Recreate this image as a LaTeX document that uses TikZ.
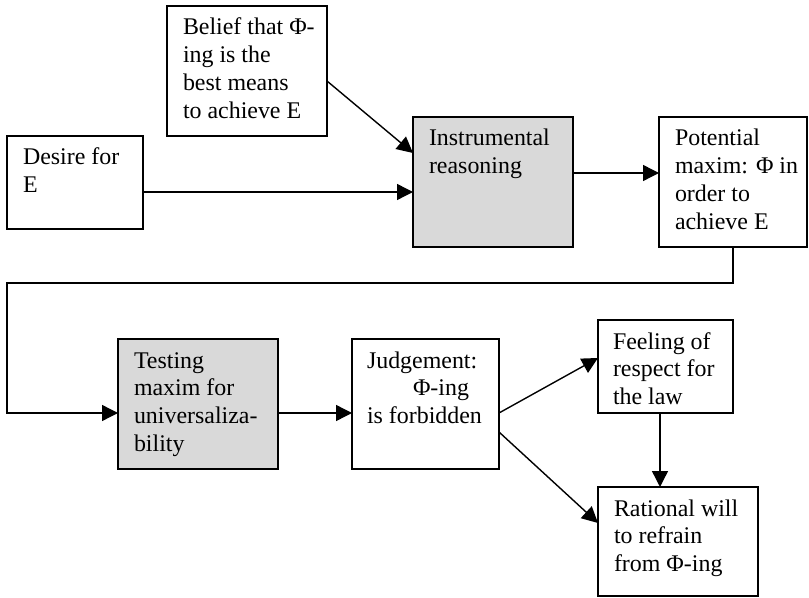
\documentclass[tikz,border=0pt]{standalone}
\usepackage{fontspec}
\setmainfont{Liberation Serif}
\usetikzlibrary{arrows.meta,fit}
\definecolor{boxgray}{HTML}{D9D9D9}
\newcommand\bxt[1]{\parbox[t]{120bp}{\raggedright #1}}
\tikzset{
  box/.style={draw=black, line width=0.9bp, inner sep=0pt, outer sep=0pt},
  graybox/.style={box, fill=boxgray},
  txt/.style={anchor=base west, inner sep=0pt, outer sep=0pt, font=\fontsize{12}{14}\selectfont},
  arr/.style={draw=black, line width=0.7bp, -{Triangle[length=8bp,width=8bp]}},
}
\begin{document}
\begin{tikzpicture}[x=0.5bp,y=-0.5bp]
\useasboundingbox (0,0) rectangle (809,598);
% boxes
\node[box, fit={(167,6) (327,136)}] (bel) {};
\node[box, fit={(7,136) (143,229)}] (des) {};
\node[graybox, fit={(413,117) (573,247)}] (ins) {};
\node[box, fit={(659,117) (807,247)}] (pot) {};
\node[graybox, fit={(118,339) (278,469)}] (tst) {};
\node[box, fit={(352,339) (499,469)}] (jud) {};
\node[box, fit={(598,320) (733,413)}] (fee) {};
\node[box, fit={(598,487) (758,596)}] (rat) {};
% texts
\node[txt] (belT) at ([xshift=8bp,yshift=-14.5bp]bel.north west) {\bxt{Belief that Φ-\\ing is the\\best means\\to achieve E}};
\node[txt] (desT) at ([xshift=8bp,yshift=-14.5bp]des.north west) {\bxt{Desire for\\E}};
\node[txt] (insT) at ([xshift=8bp,yshift=-14.5bp]ins.north west) {\bxt{Instrumental\\reasoning}};
\node[txt] (potT) at ([xshift=8bp,yshift=-14.5bp]pot.north west) {\bxt{Potential\\maxim: Φ in\\order to\\achieve E}};
\node[txt] (tstT) at ([xshift=8bp,yshift=-14.5bp]tst.north west) {\bxt{Testing\\maxim for\\universaliza-\\bility}};
\node[txt] (judT) at ([xshift=7.5bp,yshift=-14.5bp]jud.north west) {\bxt{Judgement:\\\hspace*{23bp}Φ-ing\\is forbidden}};
\node[txt] (feeT) at ([xshift=7.5bp,yshift=-14.5bp]fee.north west) {\bxt{Feeling of\\respect for\\the law}};
\node[txt] (ratT) at ([xshift=8bp,yshift=-14.5bp]rat.north west) {\bxt{Rational will\\to refrain\\from Φ-ing}};
% connectors
\coordinate (c1) at (7,283);
\draw[arr] ([yshift=-5bp]bel.east) -- ([yshift=14.5bp]ins.west);
\draw[arr] ([yshift=-4.75bp]des.east) -- ([yshift=-4.75bp]des.east -| ins.west);
\draw[arr] ([yshift=4.5bp]ins.east) -- ([yshift=4.5bp]ins.east -| pot.west);
\draw[arr] (pot.south) |- (c1) |- ([yshift=-4.5bp]tst.west);
\draw[arr] ([yshift=-4.5bp]tst.east) -- ([yshift=-4.5bp]tst.east -| jud.west);
\draw[arr] ([yshift=-4.5bp]jud.east) -- ([yshift=4.25bp]fee.west);
\draw[arr] ([yshift=-14bp]jud.east) -- ([yshift=9.25bp]rat.west);
\draw[arr] ([xshift=-2.75bp]fee.south) -- ([xshift=-2.75bp]fee.south |- rat.north);
\end{tikzpicture}
\end{document}
